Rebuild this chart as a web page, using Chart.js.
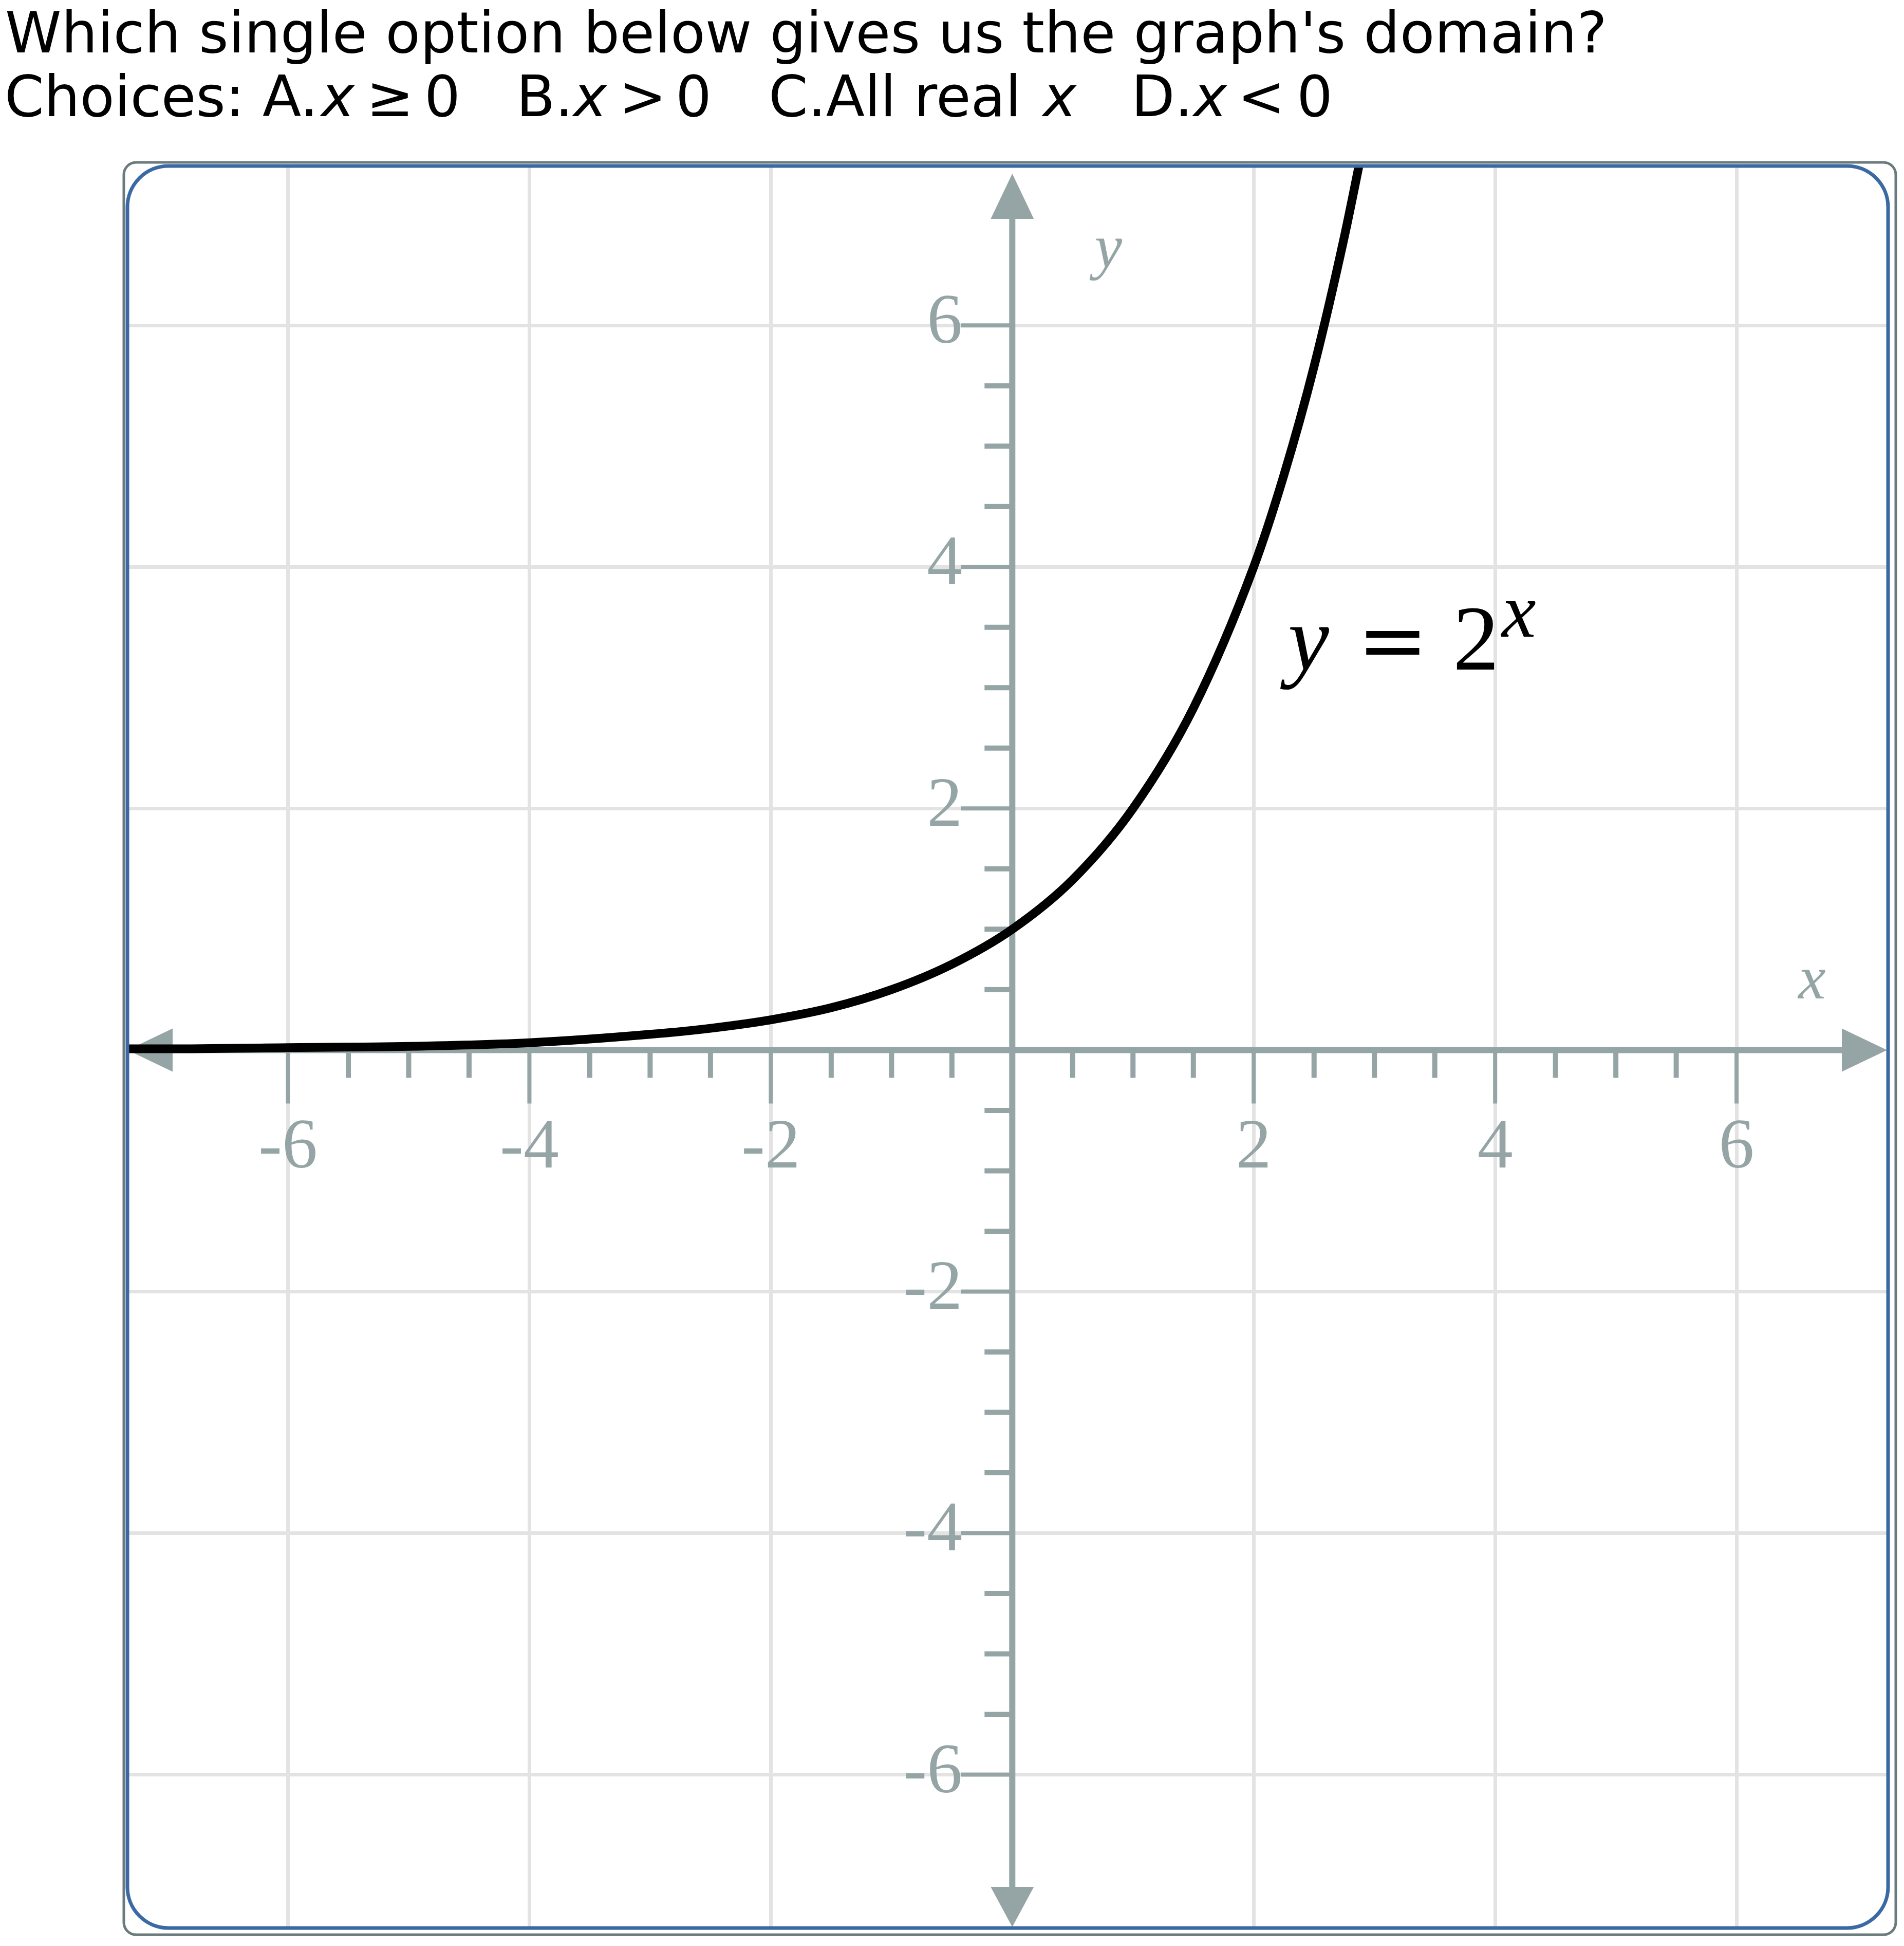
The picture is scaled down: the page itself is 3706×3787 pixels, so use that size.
<!DOCTYPE html>
<html>
<head>
<meta charset="utf-8">
<script src="https://cdn.jsdelivr.net/npm/chart.js"></script>
<style>
html, body { margin: 0; padding: 0; background: #fff; }
#wrap { position: relative; width: 3706px; height: 3787px; overflow: hidden; }
#c { position: absolute; left: 0; top: 0; }
.q { position: absolute; left: 0; font-family: "DejaVu Sans"; font-size: 110px; color: #000; white-space: pre; line-height: normal; z-index: 2; }
.q span { position: absolute; top: 0; }
.q i { font-style: italic; }
</style>
</head>
<body>
<div id="wrap">
  <div class="q" style="top:-1px;left:10px;font-size:110.8px">Which single option below gives us the graph's domain?</div>
  <div class="q" style="top:124px;width:3000px;height:130px"><span style="left:9px">Choices: A.</span><span style="left:625px"><i>x</i> </span><span style="left:713px">≥ </span><span style="left:826px">0   </span><span style="left:1005px">B.</span><span style="left:1116px"><i>x</i> </span><span style="left:1205px">&gt; </span><span style="left:1315px">0   </span><span style="left:1496px">C.All real </span><span style="left:2030px"><i>x</i>   </span><span style="left:2202px">D.</span><span style="left:2323px"><i>x</i> </span><span style="left:2409px">&lt; </span><span style="left:2524px">0</span></div>
  <canvas id="c" width="3706" height="3787" style="width:3706px;height:3787px"></canvas>
</div>
<script>
// curve y = 2^x
var xs = [-7.33, -7, -6, -5, -4, -3, -2.5, -2, -1.5, -1, -0.5, 0, 0.5, 1, 1.5, 2, 2.25, 2.5, 2.75, 2.9];
var ys = [0.01, 0.01, 0.02, 0.03, 0.06, 0.13, 0.18, 0.25, 0.35, 0.5, 0.71, 1, 1.41, 2, 2.83, 4, 4.76, 5.66, 6.73, 7.46];

var xTicks = [-6, -4, -2, 2, 4, 6];
var yTicks = [-6, -4, -2, 2, 4, 6];
var xTickLabels = ['-6', '-4', '-2', '2', '4', '6'];
var yTickLabels = ['-6', '-4', '-2', '2', '4', '6'];

var axisColor = '#95a5a6';
var gridColor = '#e3e3e3';

function rrect(ctx, x, y, w, h, r) {
	ctx.beginPath();
	ctx.moveTo(x + r, y);
	ctx.arcTo(x + w, y, x + w, y + h, r);
	ctx.arcTo(x + w, y + h, x, y + h, r);
	ctx.arcTo(x, y + h, x, y, r);
	ctx.arcTo(x, y, x + w, y, r);
	ctx.closePath();
}

var framePlugin = {
	id: 'frame',
	beforeDraw: function(chart) {
		var ctx = chart.ctx;
		ctx.save();
		ctx.strokeStyle = '#6b7a7c';
		ctx.lineWidth = 5;
		rrect(ctx, 241, 316, 3690 - 241, 3765 - 316, 24);
		ctx.stroke();
		ctx.restore();
	},
	afterDraw: function(chart) {
		var ctx = chart.ctx, a = chart.chartArea;
		ctx.save();
		ctx.strokeStyle = '#3a69a3';
		ctx.lineWidth = 7;
		rrect(ctx, a.left, a.top, a.right - a.left, a.bottom - a.top, 80);
		ctx.stroke();
		ctx.restore();
	}
};

var axisPlugin = {
	id: 'axes',
	beforeDatasetsDraw: function(chart) {
		var ctx = chart.ctx, a = chart.chartArea;
		var sx = chart.scales.x, sy = chart.scales.y;
		var x0 = sx.getPixelForValue(0), y0 = sy.getPixelForValue(0);
		var al = 88, aw = 42;
		ctx.save();
		ctx.strokeStyle = axisColor;
		ctx.fillStyle = axisColor;

		// minor ticks every 0.5
		ctx.lineWidth = 10;
		ctx.beginPath();
		for (var k = -11; k <= 11; k++) {
			if (k % 4 === 0) continue;
			var v = k / 2;
			var px = sx.getPixelForValue(v), py = sy.getPixelForValue(v);
			ctx.moveTo(px, y0); ctx.lineTo(px, y0 + 54);
			ctx.moveTo(x0, py); ctx.lineTo(x0 - 54, py);
		}
		ctx.stroke();

		// major ticks
		ctx.lineWidth = 8;
		ctx.beginPath();
		for (var i = 0; i < xTicks.length; i++) {
			var tx = sx.getPixelForValue(xTicks[i]);
			ctx.moveTo(tx, y0); ctx.lineTo(tx, y0 + 104);
		}
		for (var j = 0; j < yTicks.length; j++) {
			var ty = sy.getPixelForValue(yTicks[j]);
			ctx.moveTo(x0, ty); ctx.lineTo(x0 - 100, ty);
		}
		ctx.stroke();

		// axis lines
		ctx.lineWidth = 12;
		ctx.beginPath();
		ctx.moveTo(a.left + al, y0); ctx.lineTo(a.right - 2 - al, y0);
		ctx.moveTo(x0, a.top + 15 + al); ctx.lineTo(x0, a.bottom - 2 - 78);
		ctx.stroke();

		// arrow heads
		ctx.beginPath();
		ctx.moveTo(a.left, y0); ctx.lineTo(a.left + al, y0 - aw); ctx.lineTo(a.left + al, y0 + aw); ctx.closePath();
		ctx.moveTo(a.right - 2, y0); ctx.lineTo(a.right - 2 - al, y0 - aw); ctx.lineTo(a.right - 2 - al, y0 + aw); ctx.closePath();
		ctx.moveTo(x0, a.top + 15); ctx.lineTo(x0 - aw, a.top + 15 + al); ctx.lineTo(x0 + aw, a.top + 15 + al); ctx.closePath();
		ctx.moveTo(x0, a.bottom - 2); ctx.lineTo(x0 - aw, a.bottom - 2 - 78); ctx.lineTo(x0 + aw, a.bottom - 2 - 78); ctx.closePath();
		ctx.fill();

		// tick labels
		ctx.font = '138px "Liberation Serif"';
		ctx.textBaseline = 'alphabetic';
		ctx.textAlign = 'center';
		for (i = 0; i < xTicks.length; i++) {
			ctx.fillText(xTickLabels[i], sx.getPixelForValue(xTicks[i]), y0 + 229);
		}
		ctx.textAlign = 'right';
		for (j = 0; j < yTicks.length; j++) {
			ctx.fillText(yTickLabels[j], x0 - 97, sy.getPixelForValue(yTicks[j]) + 34);
		}

		// axis names
		ctx.font = 'italic 120px "Liberation Serif"';
		ctx.textAlign = 'center';
		ctx.fillText('y', x0 + 187, a.top + 197);
		ctx.fillText('x', a.right - 148, y0 - 100);
		ctx.restore();
	},
	afterDatasetsDraw: function(chart) {
		var ctx = chart.ctx;
		var ex = chart.scales.x.getPixelForValue(2.25), ey = chart.scales.y.getPixelForValue(3.15);
		ctx.save();
		ctx.fillStyle = '#000';
		ctx.textBaseline = 'alphabetic';
		ctx.textAlign = 'left';
		ctx.font = 'italic 180px "Liberation Serif"';
		ctx.fillText('y', ex + 8, ey);
		ctx.textAlign = 'center';
		ctx.font = '165px "DejaVu Serif"';
		ctx.fillText('=', ex + 212, ey);
		ctx.font = '180px "Liberation Serif"';
		ctx.fillText('2', ex + 374, ey);
		ctx.textAlign = 'left';
		ctx.font = 'italic 150px "Liberation Serif"';
		ctx.fillText('x', ex + 424, ey - 64);
		ctx.restore();
	}
};

var points = [];
for (var i in xs) {
	points.push({ x: xs[i], y: ys[i] });
}

function gridOpts() {
	return {
		color: function(c) { return c.tick && c.tick.value === 0 ? 'rgba(0,0,0,0)' : gridColor; },
		lineWidth: 7,
		drawTicks: false
	};
}

var chart = new Chart(document.getElementById('c'), {
	type: 'line',
	data: {
		datasets: [{
			label: 'y = 2^x',
			data: points,
			borderColor: '#000',
			borderWidth: 17,
			pointRadius: 0,
			fill: false,
			cubicInterpolationMode: 'monotone',
			clip: 0
		}]
	},
	options: {
		responsive: false,
		animation: false,
		events: [],
		layout: { padding: { left: 248, top: 323, right: 31, bottom: 35 } },
		plugins: { legend: { display: false }, tooltip: { enabled: false } },
		scales: {
			x: {
				type: 'linear', min: -7.33, max: 7.255,
				ticks: { display: false, stepSize: 2, includeBounds: false },
				grid: gridOpts(),
				border: { display: false }
			},
			y: {
				type: 'linear', min: -7.27, max: 7.32,
				ticks: { display: false, stepSize: 2, includeBounds: false },
				grid: gridOpts(),
				border: { display: false }
			}
		}
	},
	plugins: [framePlugin, axisPlugin]
});
</script>
</body>
</html>
